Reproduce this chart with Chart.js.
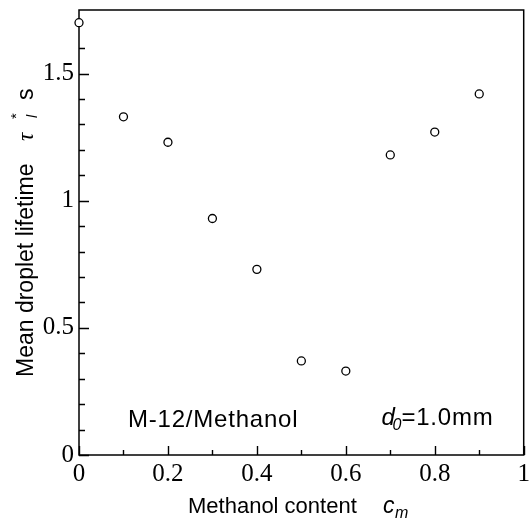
<!DOCTYPE html>
<html>
<head>
<meta charset="utf-8">
<script src="https://cdn.jsdelivr.net/npm/chart.js@4.4.1/dist/chart.umd.min.js"></script>
<style>
  body { margin: 0; background: #fff; }
  canvas { display: block; }
</style>
</head>
<body>
<canvas id="chart" width="529" height="519"></canvas>
<script>
const methanolContent = [0, 0.1, 0.2, 0.3, 0.4, 0.5, 0.6, 0.7, 0.8, 0.9];
const dropletLifetime = [1.70, 1.33, 1.23, 0.93, 0.73, 0.37, 0.33, 1.18, 1.27, 1.42];
const xTickLabels = ["0", "0.2", "0.4", "0.6", "0.8", "1"];
const yTickLabels = ["0", "0.5", "1", "1.5"];

const SANS = "'Liberation Sans', Arial, sans-serif";
const SERIF = "'Liberation Serif', 'Times New Roman', serif";

function labelFor(list, value) {
  const hit = list.find(l => Math.abs(parseFloat(l) - value) < 1e-6);
  return hit === undefined ? "" : hit;
}

// draw a row of text pieces, each {text, font, dx, dy}
function drawPieces(ctx, pieces) {
  pieces.forEach(p => {
    ctx.font = p.font;
    ctx.fillText(p.text, p.dx, p.dy || 0);
  });
}

// box round the plot + inward ticks
const framePlugin = {
  id: "frame",
  beforeDatasetsDraw(chart) {
    const { ctx, chartArea: a, scales } = chart;
    ctx.save();
    ctx.strokeStyle = "#000";
    ctx.lineWidth = 1.5;
    ctx.strokeRect(a.left, a.top, a.right - a.left, a.bottom - a.top);
    ctx.lineWidth = 1.4;
    ctx.beginPath();
    scales.x.ticks.forEach(t => {
      const px = Math.round(scales.x.getPixelForValue(t.value)) + 0.5;
      const len = labelFor(xTickLabels, t.value) ? 9 : 5;
      ctx.moveTo(px, a.bottom);
      ctx.lineTo(px, a.bottom - len);
    });
    scales.y.ticks.forEach(t => {
      if (Math.abs(t.value * 10 - Math.round(t.value * 10)) > 1e-6) return;
      const py = Math.round(scales.y.getPixelForValue(t.value)) + 0.5;
      const len = labelFor(yTickLabels, t.value) ? 10 : 6;
      ctx.moveTo(a.left, py);
      ctx.lineTo(a.left + len, py);
    });
    ctx.stroke();
    ctx.restore();
  }
};

const textPlugin = {
  id: "texts",
  afterDraw(chart) {
    const { ctx, chartArea: a, scales } = chart;
    ctx.save();
    ctx.fillStyle = "#000";
    ctx.textBaseline = "alphabetic";
    ctx.textAlign = "left";

    // x axis title
    ctx.save();
    ctx.translate(a.left + 109, 513);
    drawPieces(ctx, [
      { text: "Methanol content", font: "22px " + SANS, dx: 0 },
      { text: "c", font: "italic 23px " + SANS, dx: 195 },
      { text: "m", font: "italic 16px " + SANS, dx: 207, dy: 5 }
    ]);
    ctx.restore();

    // y axis title, rotated
    ctx.save();
    ctx.translate(33, a.bottom);
    ctx.rotate(-Math.PI / 2);
    drawPieces(ctx, [
      { text: "Mean droplet lifetime", font: "23px " + SANS, dx: 78 },
      { text: "\u03c4", font: "italic 23px " + SERIF, dx: 314 },
      { text: "*", font: "15px " + SANS, dx: 336, dy: -12 },
      { text: "l", font: "italic 14px " + SANS, dx: 337, dy: 4 },
      { text: "s", font: "23px " + SANS, dx: 355 }
    ]);
    ctx.restore();

    // annotations inside the plot
    ctx.letterSpacing = "0.8px";
    const ax = scales.x.getPixelForValue(0.11);
    const ay = scales.y.getPixelForValue(0.11);
    ctx.font = "24px " + SANS;
    ctx.fillText("M-12/Methanol", ax, ay);

    const bx = scales.x.getPixelForValue(0.68);
    const by = scales.y.getPixelForValue(0.118);
    ctx.translate(bx, by);
    drawPieces(ctx, [
      { text: "d", font: "italic 24px " + SANS, dx: 0 },
      { text: "0", font: "italic 16px " + SANS, dx: 11, dy: 5 },
      { text: "=1.0mm", font: "24px " + SANS, dx: 20 }
    ]);
    ctx.restore();
  }
};

new Chart(document.getElementById("chart"), {
  type: "scatter",
  data: {
    datasets: [{
      data: methanolContent.map((x, i) => ({ x: x, y: dropletLifetime[i] })),
      pointStyle: "circle",
      pointRadius: 4,
      pointBackgroundColor: "#fff",
      pointBorderColor: "#000",
      pointBorderWidth: 1.3,
      clip: false
    }]
  },
  options: {
    responsive: false,
    animation: false,
    devicePixelRatio: 1,
    layout: { padding: { top: 10, right: 4, left: 0, bottom: 0 } },
    plugins: { legend: { display: false }, tooltip: { enabled: false } },
    scales: {
      x: {
        type: "linear",
        min: 0,
        max: 1,
        grid: { display: false, drawTicks: false },
        border: { display: false },
        ticks: {
          stepSize: 0.1,
          autoSkip: false,
          maxRotation: 0,
          padding: 4,
          color: "#000",
          font: { family: SERIF, size: 25 },
          callback: v => labelFor(xTickLabels, v)
        },
        afterFit(scale) {
          scale.height = 64;
          scale.paddingLeft = 0;
          scale.paddingRight = 0;
        }
      },
      y: {
        type: "linear",
        min: 0,
        max: 1.75,
        grid: { display: false, drawTicks: false },
        border: { display: false },
        ticks: {
          stepSize: 0.1,
          autoSkip: false,
          padding: 5,
          color: "#000",
          font: { family: SERIF, size: 25 },
          callback: v => labelFor(yTickLabels, v)
        },
        afterFit(scale) {
          scale.width = 79;
          scale.paddingTop = 0;
          scale.paddingBottom = 0;
        }
      }
    }
  },
  plugins: [framePlugin, textPlugin]
});
</script>
</body>
</html>
